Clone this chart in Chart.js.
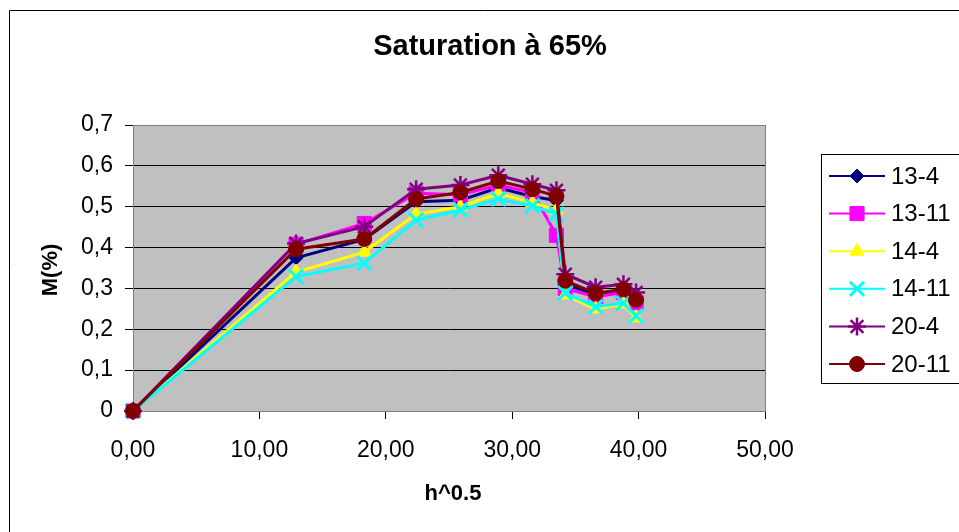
<!DOCTYPE html>
<html>
<head>
<meta charset="utf-8">
<title>Saturation à 65%</title>
<script src="https://cdn.jsdelivr.net/npm/chart.js@4.4.1/dist/chart.umd.min.js"></script>
<style>
  html, body { margin: 0; padding: 0; background: #ffffff; }
  #wrap { width: 959px; height: 532px; }
</style>
</head>
<body>
<div id="wrap"><canvas id="satChart" width="959" height="532"></canvas></div>
<script>
// Valeurs de h^0.5 (abscisses communes aux six séries)
const hRacine = [0, 12.9, 18.3, 22.4, 25.9, 28.9, 31.6, 33.5, 34.2, 36.6, 38.8, 39.8];

// Teneur M(%) pour chaque échantillon
const serie13_4  = [0, 0.375, 0.420, 0.512, 0.516, 0.546, 0.525, 0.515, 0.310, 0.285, 0.290, 0.270];
const serie13_11 = [0, 0.408, 0.459, 0.533, 0.529, 0.553, 0.535, 0.430, 0.300, 0.280, 0.290, 0.265];
const serie14_4  = [0, 0.340, 0.389, 0.482, 0.500, 0.533, 0.510, 0.492, 0.284, 0.250, 0.262, 0.228];
const serie14_11 = [0, 0.329, 0.362, 0.467, 0.492, 0.519, 0.502, 0.482, 0.289, 0.255, 0.264, 0.233];
const serie20_4  = [0, 0.410, 0.451, 0.543, 0.553, 0.577, 0.555, 0.540, 0.335, 0.303, 0.310, 0.290];
const serie20_11 = [0, 0.396, 0.421, 0.519, 0.535, 0.563, 0.543, 0.526, 0.319, 0.288, 0.298, 0.272];

const nomsSeries = ['13-4', '13-11', '14-4', '14-11', '20-4', '20-11'];
const valeursSeries = [serie13_4, serie13_11, serie14_4, serie14_11, serie20_4, serie20_11];

// Style Excel : couleur, marqueur, taille
const styles = [
  { couleur: '#000080', forme: 'rectRot',  rayon: 7,  trait: 1 },
  { couleur: '#FF00FF', forme: 'rect',     rayon: 10, trait: 1 },
  { couleur: '#FFFF00', forme: 'triangle', rayon: 8,  trait: 1 },
  { couleur: '#00FFFF', forme: 'crossRot', rayon: 10, trait: 3 },
  { couleur: '#800080', forme: 'star',     rayon: 9,  trait: 2.5 },
  { couleur: '#800000', forme: 'circle',   rayon: 7.5, trait: 1 }
];

const police = '"Liberation Sans", Arial, sans-serif';

const datasets = nomsSeries.map((nom, i) => ({
  label: nom,
  data: hRacine.map((x, j) => ({ x: x, y: valeursSeries[i][j] })),
  showLine: true,
  clip: false,
  borderColor: styles[i].couleur,
  backgroundColor: styles[i].couleur,
  borderWidth: 3,
  pointStyle: styles[i].forme,
  pointRadius: styles[i].rayon,
  pointBorderWidth: styles[i].trait,
  pointBorderColor: styles[i].couleur,
  pointBackgroundColor: styles[i].couleur,
  order: nomsSeries.length - i   // la dernière série passe au-dessus
}));

// Fond gris, titres et légende encadrée
const decorExcel = {
  id: 'decorExcel',
  beforeDraw(chart) {
    const { ctx, chartArea: a } = chart;
    ctx.save();
    ctx.fillStyle = '#C0C0C0';
    ctx.fillRect(a.left, a.top, a.right - a.left, a.bottom - a.top);
    ctx.restore();
  },
  beforeDatasetsDraw(chart) {
    const { ctx, chartArea: a } = chart;
    ctx.save();
    ctx.strokeStyle = '#808080';
    ctx.lineWidth = 1;
    ctx.strokeRect(a.left + 0.5, a.top + 0.5, a.right - a.left, a.bottom - a.top);
    ctx.restore();
  },
  afterDraw(chart) {
    const ctx = chart.ctx;
    ctx.save();

    // cadre du graphique
    ctx.strokeStyle = '#000000';
    ctx.lineWidth = 1;
    ctx.beginPath();
    ctx.moveTo(9.5, 532);
    ctx.lineTo(9.5, 10.5);
    ctx.lineTo(959, 10.5);
    ctx.stroke();

    // titre
    ctx.fillStyle = '#000000';
    ctx.textAlign = 'center';
    ctx.textBaseline = 'middle';
    ctx.font = 'bold 29px ' + police;
    ctx.fillText('Saturation à 65%', 490, 47);

    // titres des axes
    ctx.font = 'bold 22px ' + police;
    ctx.fillText('h^0.5', 453, 494);
    ctx.save();
    ctx.translate(51, 270);
    ctx.rotate(-Math.PI / 2);
    ctx.fillText('M(%)', 0, 0);
    ctx.restore();

    // légende
    ctx.strokeStyle = '#000000';
    ctx.lineWidth = 1;
    ctx.strokeRect(821.5, 154.5, 145, 229);
    ctx.font = '24px ' + police;
    ctx.textAlign = 'left';
    chart.data.datasets.forEach((ds, i) => {
      const y = 176 + i * 37.6;
      ctx.strokeStyle = ds.borderColor;
      ctx.lineWidth = 2;
      ctx.beginPath();
      ctx.moveTo(829, y);
      ctx.lineTo(885, y);
      ctx.stroke();
      ctx.fillStyle = ds.pointBackgroundColor;
      ctx.strokeStyle = ds.pointBorderColor;
      ctx.lineWidth = ds.pointBorderWidth;
      Chart.helpers.drawPoint(ctx, {
        pointStyle: ds.pointStyle,
        radius: ds.pointRadius,
        rotation: 0,
        borderWidth: ds.pointBorderWidth
      }, 857, y);
      ctx.fillStyle = '#000000';
      ctx.fillText(ds.label, 891, y + 1);
    });
    ctx.restore();
  }
};

const config = {
  type: 'scatter',
  data: { datasets: datasets },
  options: {
    responsive: false,
    animation: false,
    layout: { padding: { top: 125, right: 194, bottom: 0, left: 0 } },
    plugins: {
      legend: { display: false },
      title: { display: false },
      tooltip: { enabled: false }
    },
    scales: {
      x: {
        type: 'linear',
        min: 0,
        max: 50,
        afterFit(scale) { scale.height = 121; },
        ticks: {
          stepSize: 10,
          color: '#000000',
          padding: 18,
          maxRotation: 0,
          font: { family: police, size: 23 },
          callback: v => v.toFixed(2).replace('.', ',')
        },
        grid: {
          drawOnChartArea: false,
          drawTicks: true,
          tickLength: 8,
          tickColor: '#000000'
        },
        border: { color: '#000000', width: 1 }
      },
      y: {
        type: 'linear',
        min: 0,
        max: 0.7,
        afterFit(scale) { scale.width = 133; },
        ticks: {
          stepSize: 0.1,
          color: '#000000',
          padding: 12,
          font: { family: police, size: 23 },
          callback: v => (Math.abs(v) < 1e-9 ? '0' : v.toFixed(1).replace('.', ','))
        },
        grid: {
          color: '#000000',
          lineWidth: 1,
          drawTicks: true,
          tickLength: 8,
          tickColor: '#000000'
        },
        border: { color: '#404040', width: 1 }
      }
    }
  },
  plugins: [decorExcel]
};

const ctx = document.getElementById('satChart').getContext('2d');
const graphique = new Chart(ctx, config);
</script>
</body>
</html>
